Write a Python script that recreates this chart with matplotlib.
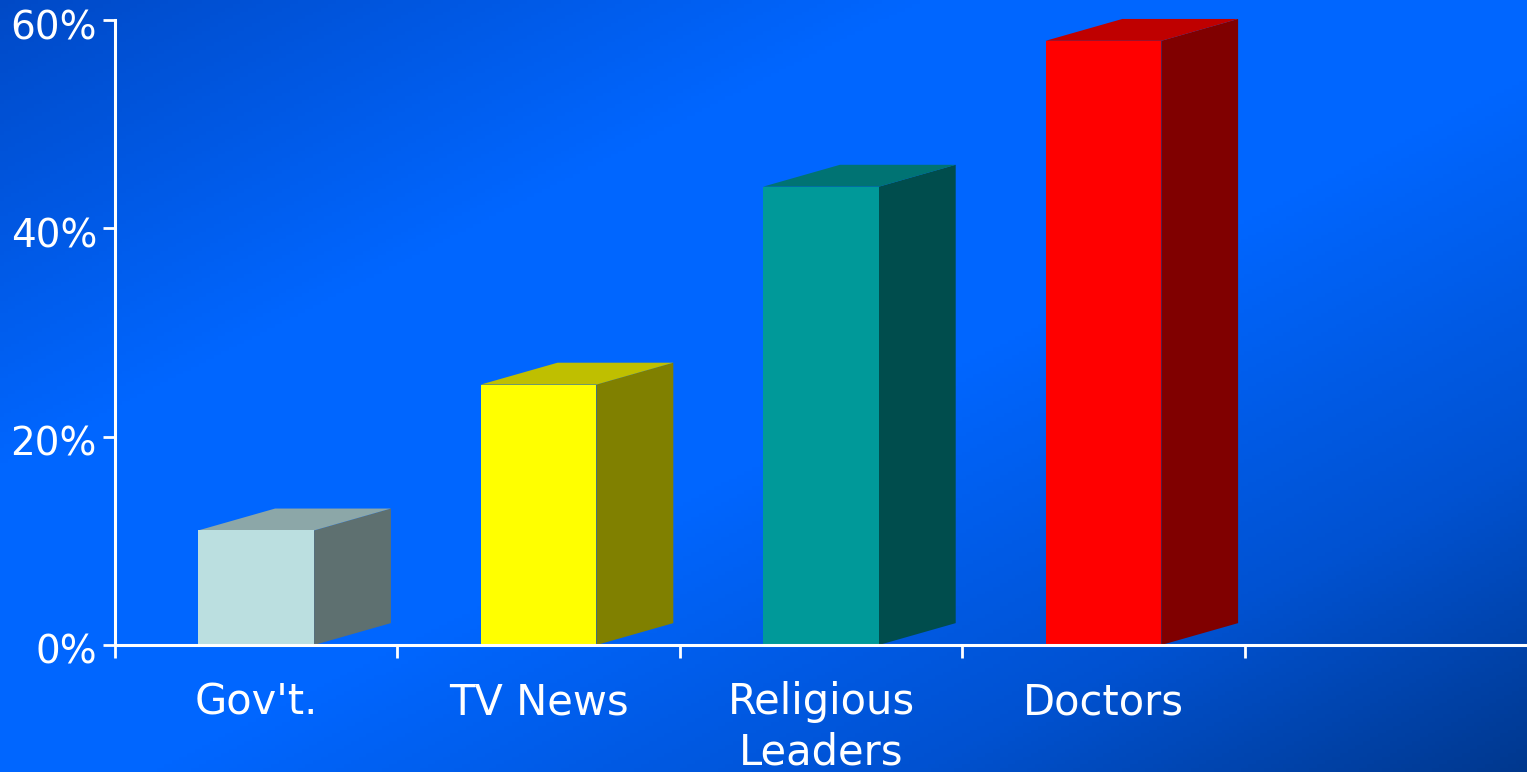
import matplotlib
matplotlib.use("Agg")
import matplotlib.pyplot as plt
import matplotlib.transforms as mtransforms
from matplotlib.patches import Polygon
from matplotlib.colors import LinearSegmentedColormap, to_rgb
import numpy as np

# trust in sources (%)
categories = ["Gov't.", "TV News", "Religious\nLeaders", "Doctors"]
values = [11, 25, 44, 58]
front_colors = ["#bbdfe0", "#ffff00", "#009999", "#ff0000"]
y_ticks = [0, 20, 40, 60]
y_labels = ["0%", "20%", "40%", "60%"]

def shade(color, k):
    r, g, b = to_rgb(color)
    return (r * k, g * k, b * k)

fig = plt.figure(figsize=(15.27, 7.72), dpi=100)

# diagonal blue backdrop
bg = fig.add_axes([0, 0, 1, 1], zorder=-10)
bg_cmap = LinearSegmentedColormap.from_list("bg", [
    (0.0, (0.0, 0.29, 0.78)),
    (0.30, (0.0, 0.40, 1.0)),
    (0.55, (0.0, 0.40, 1.0)),
    (0.80, (0.0, 0.32, 0.82)),
    (1.0, (0.0, 0.22, 0.56)),
])
xx, yy = np.meshgrid(np.linspace(0, 1, 400), np.linspace(0, 1, 200))
bg.imshow((xx + yy) / 2, cmap=bg_cmap, aspect="auto", extent=(0, 1, 1, 0), vmin=0, vmax=1)
bg.axis("off")

ax = fig.add_axes([115 / 1527, 1 - 645 / 772, 1 - 115 / 1527, (645 - 20) / 772])
ax.patch.set_alpha(0)

width = 0.41
dx = 0.272
dy = 2.1
x = np.arange(len(categories))
ax.bar(x, values, width=width, color=front_colors, linewidth=0, zorder=3, clip_on=False)
for xi, v, c in zip(x, values, front_colors):
    l = xi - width / 2
    r = xi + width / 2
    side = Polygon([(r, 0), (r + dx, dy), (r + dx, v + dy), (r, v)],
                   closed=True, facecolor=shade(c, 0.5), edgecolor="none",
                   zorder=2, clip_on=False)
    top = Polygon([(l, v), (r, v), (r + dx, v + dy), (l + dx, v + dy)],
                  closed=True, facecolor=shade(c, 0.75), edgecolor="none",
                  zorder=2, clip_on=False)
    ax.add_patch(side)
    ax.add_patch(top)

ax.set_xlim(-0.5, 4.5)
ax.set_ylim(0, 60)

for s in ["top", "right"]:
    ax.spines[s].set_visible(False)
for s in ["left", "bottom"]:
    ax.spines[s].set_color("white")
    ax.spines[s].set_linewidth(2.2)
    ax.spines[s].set_zorder(4)

ax.set_yticks(y_ticks)
ax.set_yticklabels(y_labels)
ax.tick_params(axis="y", colors="white", labelsize=28, length=9, width=2,
               direction="out", pad=4)
shift = mtransforms.ScaledTranslation(0, -4 / 100, fig.dpi_scale_trans)
for lab in ax.get_yticklabels():
    lab.set_transform(lab.get_transform() + shift)

ax.set_xticks(np.arange(-0.5, 4.0, 1.0))
ax.set_xticklabels([])
ax.tick_params(axis="x", which="major", colors="white", length=9, width=2,
               direction="out")
ax.set_xticks(x, minor=True)
ax.set_xticklabels(categories, minor=True, linespacing=1.25)
ax.tick_params(axis="x", which="minor", length=0, labelcolor="white",
               labelsize=30, pad=26)

fig.savefig("out.png", dpi=100)
